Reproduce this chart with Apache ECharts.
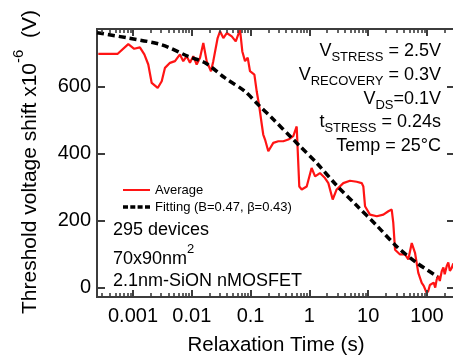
<!DOCTYPE html>
<html><head><meta charset="utf-8">
<script src="https://cdn.jsdelivr.net/npm/echarts@6/dist/echarts.min.js"></script>
<style>html,body{margin:0;padding:0;background:#fff}#c{width:453px;height:357px}</style>
</head><body><div id="c"></div>
<script>
// ---- data (relaxation time in s, threshold voltage shift in 1e-6 V) ----
const avgTime = [2.57e-4,5.50e-4,8.32e-4,1.05e-3,1.31e-3,1.56e-3,1.82e-3,2.08e-3,2.63e-3,3.08e-3,
  3.50e-3,4.26e-3,5.18e-3,6.29e-3,7.16e-3,8.18e-3,9.31e-3,0.0106,0.0121,0.0138,
  0.0157,0.0179,0.0212,0.0232,0.0275,0.0302,0.0344,0.0393,0.0478,0.0559,
  0.0661,0.0723,0.0804,0.0893,0.0977,0.116,0.127,0.139,0.155,0.164,
  0.176,0.200,0.243,0.296,0.360,0.438,0.532,0.608,0.632,0.673,
  0.740,0.900,1.09,1.25,1.51,1.84,2.10,2.49,2.91,3.77,
  4.90,6.37,7.75,8.26,8.83,10.7,14.0,18.1,22.0,25.1,
  26.7,28.6,34.8,42.3,48.1,55.0,62.5,71.1,81.3,88,
  98.8,105,112,120,130,138,146,155,165,178,
  190,200,216,230,245,263,280,290,299];
const avgShift = [698,698,727,713,717,696,666,611,596,616,
  656,671,676,696,676,691,671,691,666,686,
  730,676,646,676,745,765,745,760,750,735,
  770,705,676,686,646,636,586,546,487,457,
  442,407,432,437,437,442,452,481,412,302,
  293,302,357,332,342,327,312,263,293,312,
  319,316,312,302,243,218,213,218,228,233,
  193,113,99,99,84,133,104,44,14,5,
  -16,-10,8,4,15,0,24,35,20,49,
  60,40,64,75,50,59,72,55,69];
const fitTime = [2.45e-4,8.3e-4,3.08e-3,8.7e-3,0.0168,0.0367,0.080,0.135,0.229,0.533,
  0.692,1.33,2.91,6.37,14.0,30.5,66.8,150];
const fitShift = [761,745,725,690,671,626,586,546,507,442,
  422,372,305,245,185,123,74,33];
const xTickValues = [0.001,0.01,0.1,1,10,100];
const xTickLabels = ['0.001','0.01','0.1','1','10','100'];
const yTickValues = [0,200,400,600];
const yTickLabels = ['0','200','400','600'];
const seriesNames = ['Average','Fitting (B=0.47, \u03b2=0.43)'];

// ---- chart ----
const FONT = "'Liberation Sans', Arial, Helvetica, sans-serif";
const LOG_MIN = -3.612, LOG_MAX = 2.476, Y_MIN = -28, Y_MAX = 772;
const GRID_W = 358, GRID_H = 268;
const PX_X = GRID_W / (LOG_MAX - LOG_MIN), PX_Y = GRID_H / (Y_MAX - Y_MIN);
const lg = v => Math.log10(v);
const majorTicks = xTickValues.map(lg);
const minorTicks = [];
for (let k = -4; k <= 2; k++) for (let m = 2; m <= 9; m++) {
  const l = lg(m * Math.pow(10, k));
  if (l > LOG_MIN && l < LOG_MAX) minorTicks.push(l);
}
const AX = '#3c3c3c';
// tick marks and top frame as mark lines in data coordinates
const frameLines = [];
function mline(a, b, w) { frameLines.push([{coord: a, lineStyle: {width: w}}, {coord: b}]); }
mline([LOG_MIN, Y_MAX], [LOG_MAX, Y_MAX], 2);
majorTicks.forEach(v => { mline([v, Y_MIN], [v, Y_MIN + 7 / PX_Y], 2); mline([v, Y_MAX], [v, Y_MAX - 7 / PX_Y], 2); });
minorTicks.forEach(v => { mline([v, Y_MIN], [v, Y_MIN + 4 / PX_Y], 1.6); mline([v, Y_MAX], [v, Y_MAX - 4 / PX_Y], 1.6); });
yTickValues.forEach(v => { mline([LOG_MIN, v], [LOG_MIN + 8 / PX_X, v], 2); mline([LOG_MAX, v], [LOG_MAX - 8 / PX_X, v], 2); });

const chart = echarts.init(document.getElementById('c'), null, {renderer: 'canvas'});
const rich18 = {
  v: {fontSize: 18, fontFamily: FONT, fill: '#000', verticalAlign: 'top'},
  s: {fontSize: 13, fontFamily: FONT, fill: '#000', verticalAlign: 'top', padding: [9, 0, 0, 0]}
};
function rtext(x, y, text) {
  return {type: 'text', x: x, y: y, silent: true,
    style: {text: text, align: 'right', verticalAlign: 'top', rich: rich18, fill: '#000'}};
}
function ltext(x, y, text) {
  return {type: 'text', x: x, y: y, silent: true,
    style: {text: text, align: 'left', verticalAlign: 'top', fill: '#000', fontSize: 18, fontFamily: FONT}};
}
const texts = [
  rtext(441, 42, '{v|V}{s|STRESS}{v| = 2.5V}'),
  rtext(441, 65.8, '{v|V}{s|RECOVERY}{v| = 0.3V}'),
  rtext(441, 89.6, '{v|V}{s|DS}{v|=0.1V}'),
  rtext(441, 113.4, '{v|t}{s|STRESS}{v| = 0.24s}'),
  rtext(441, 137.2, '{v|Temp = 25\u00b0C}'),
  ltext(113, 220.7, '295 devices'),
  {type: 'text', x: 113, y: 242.7, silent: true,
   style: {text: '{m|70x90nm}{p|2}', align: 'left', verticalAlign: 'top', rich: {
     m: {fontSize: 18, fontFamily: FONT, fill: '#000', verticalAlign: 'top', padding: [7, 0, 0, 0]},
     p: {fontSize: 13, fontFamily: FONT, fill: '#000', verticalAlign: 'top'}}}},
  ltext(113, 272, '2.1nm-SiON nMOSFET'),
  {type: 'text', x: 276, y: 345, silent: true,
   style: {text: 'Relaxation Time (s)', align: 'center', verticalAlign: 'middle', fill: '#000', fontSize: 20.5, fontFamily: FONT}},
  {type: 'text', x: 26, y: 162, rotation: Math.PI / 2, silent: true,
   style: {text: '{t|Threshold voltage shift x10}{p|-6}{t|  (V)}', align: 'center', verticalAlign: 'middle', rich: {
     t: {fontSize: 21, fontFamily: FONT, fill: '#000', verticalAlign: 'top', padding: [7.5, 0, 0, 0]},
     p: {fontSize: 15, fontFamily: FONT, fill: '#000', verticalAlign: 'top'}}}}
];
chart.setOption({
  animation: false,
  backgroundColor: '#fff',
  grid: {left: 97, top: 29, width: GRID_W, height: GRID_H, containLabel: false, outerBoundsMode: 'none',
         show: true, borderColor: AX, borderWidth: 2, backgroundColor: 'transparent'},
  xAxis: {
    type: 'value', position: 'bottom', min: LOG_MIN, max: LOG_MAX,
    axisLine: {show: true, onZero: false, lineStyle: {color: AX, width: 2}},
    axisTick: {show: true, inside: true, length: 7, customValues: majorTicks, lineStyle: {color: AX, width: 2}},
    axisLabel: {show: true, customValues: majorTicks, margin: 9, color: '#000', fontSize: 20, fontFamily: FONT,
      formatter: v => { const i = majorTicks.findIndex(t => Math.abs(t - v) < 1e-6); return i >= 0 ? xTickLabels[i] : ''; }},
    splitLine: {show: false}
  },
  yAxis: {
    type: 'value', position: 'left', min: Y_MIN, max: Y_MAX,
    axisLine: {show: true, onZero: false, lineStyle: {color: AX, width: 2}},
    axisTick: {show: true, inside: true, length: 8, customValues: yTickValues, lineStyle: {color: AX, width: 2}},
    axisLabel: {show: true, customValues: yTickValues, margin: 6, color: '#000', fontSize: 20, fontFamily: FONT,
      formatter: v => { const i = yTickValues.indexOf(v); return i >= 0 ? yTickLabels[i] : ''; }},
    splitLine: {show: false}
  },
  legend: {
    orient: 'vertical', left: 118, top: 178, itemWidth: 27, itemHeight: 14, itemGap: 3,
    selectedMode: false, textStyle: {fontSize: 13, color: '#000', fontFamily: FONT},
    data: [
      {name: seriesNames[0], icon: 'path://M0,0h0.01v0.01h-0.01z M0,14h0.01v-0.01h-0.01z M0,6h27v2h-27z'},
      {name: seriesNames[1], icon: 'path://M0,0h0.01v0.01h-0.01z M0,14h0.01v-0.01h-0.01z M0,5.25h5v3.5h-5z M7.3,5.25h5v3.5h-5z M14.6,5.25h5v3.5h-5z M22,5.25h5v3.5h-5z'}
    ]
  },
  series: [
    {type: 'line', name: seriesNames[0],
     data: avgTime.map((t, i) => [lg(t), avgShift[i]]), symbol: 'none', showSymbol: false,
     lineStyle: {color: '#ff1414', width: 2.2}, itemStyle: {color: '#ff1414'}, clip: true, z: 2,
     markLine: {silent: true, symbol: ['none', 'none'], animation: false, precision: 6,
       label: {show: false}, emphasis: {disabled: true},
       lineStyle: {color: AX, width: 2, type: 'solid', opacity: 1}, data: frameLines}},
    {type: 'line', name: seriesNames[1], smooth: 0.3,
     data: fitTime.map((t, i) => [lg(t), fitShift[i]]), symbol: 'none', showSymbol: false,
     lineStyle: {color: '#000', width: 3.5, type: [7, 4]}, itemStyle: {color: '#000'}, clip: true, z: 3}
  ],
  graphic: texts
});
</script></body></html>
